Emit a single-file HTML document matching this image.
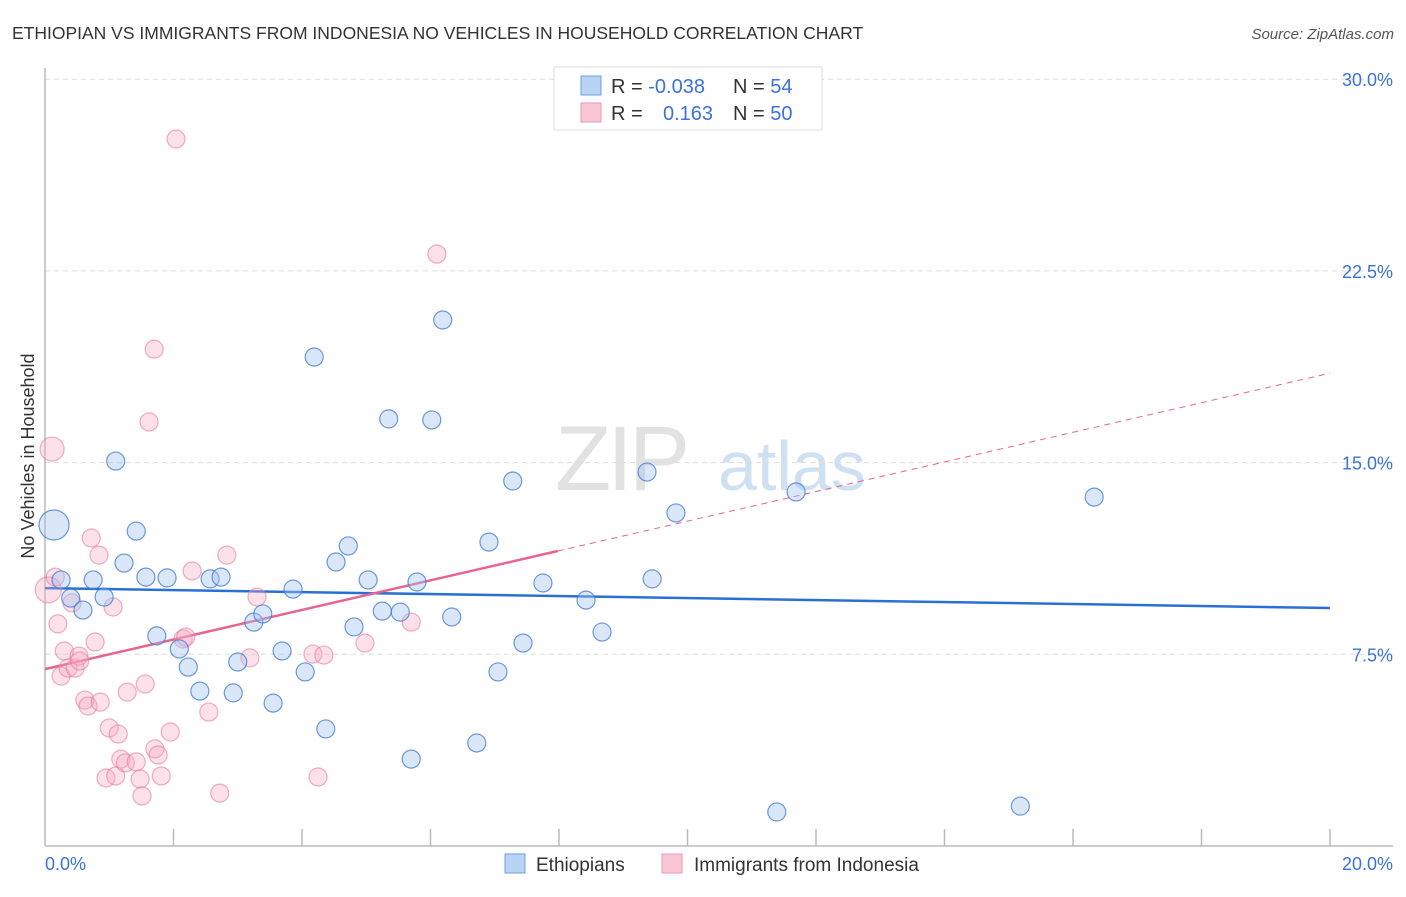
<!DOCTYPE html>
<html><head><meta charset="utf-8"><style>
body{margin:0;background:#fff;font-family:"Liberation Sans",sans-serif}
svg text{font-family:"Liberation Sans",sans-serif}
</style></head><body>
<svg width="1406" height="892" viewBox="0 0 1406 892" xmlns="http://www.w3.org/2000/svg">
<text x="12" y="39" font-size="17.5" fill="#333">ETHIOPIAN VS IMMIGRANTS FROM INDONESIA NO VEHICLES IN HOUSEHOLD CORRELATION CHART</text>
<text x="1394" y="39" font-size="15" fill="#555" font-style="italic" text-anchor="end">Source: ZipAtlas.com</text>
<g>
<text x="555" y="490" font-size="92" fill="#e2e2e2" font-family="Liberation Serif" letter-spacing="-4">ZIP</text>
<text x="718" y="490" font-size="70" fill="#cfe0f3">atlas</text>
</g>
<g id="grid"></g>
<g id="axes"></g>
<g id="lines"></g>
<g id="pts"></g>
<text transform="translate(34,456) rotate(-90)" font-size="18" fill="#333" text-anchor="middle">No Vehicles in Household</text>
<g>
<rect x="554" y="67" width="268" height="63" fill="#fff" stroke="#ddd"/>
<rect x="581" y="76" width="20" height="19" fill="#b9d3f4" stroke="#6d9fe0"/>
<rect x="581" y="103" width="20" height="19" fill="#f9c6d4" stroke="#ec95af"/>
<text x="611" y="93" font-size="20" fill="#333">R = <tspan fill="#3a72d8">-0.038</tspan></text>
<text x="733" y="93" font-size="20" fill="#333">N = <tspan fill="#3a72d8">54</tspan></text>
<text x="611" y="120" font-size="20" fill="#333">R = </text>
<text x="663" y="120" font-size="20" fill="#3a72d8">0.163</text>
<text x="733" y="120" font-size="20" fill="#333">N = <tspan fill="#3a72d8">50</tspan></text>
</g>
<g>
<rect x="505" y="854" width="20" height="19" fill="#b9d3f4" stroke="#6d9fe0"/>
<text x="536" y="871" font-size="19" fill="#333">Ethiopians</text>
<rect x="662" y="854" width="20" height="19" fill="#f9c6d4" stroke="#ec95af"/>
<text x="694" y="871" font-size="19" fill="#333">Immigrants from Indonesia</text>
</g>
</svg>
<script>
const yTicks=[7.5,15,22.5,30];
const yTickLabels=["7.5%","15.0%","22.5%","30.0%"];
const xTickCount=10;
const xEndLabels=["0.0%","20.0%"];
const blueX=[0.14,0.25,0.40,0.59,0.75,0.92,1.10,1.23,1.42,1.57,1.74,1.90,2.09,2.23,2.41,2.57,2.74,2.93,3.00,3.25,3.39,3.55,3.69,3.86,4.05,4.19,4.37,4.53,4.72,4.81,5.03,5.25,5.35,5.53,5.70,5.79,6.02,6.19,6.33,6.72,6.91,7.05,7.28,7.44,7.75,8.42,8.67,9.37,9.45,9.82,11.39,11.69,15.18,16.33];
const blueY=[12.56,10.41,9.70,9.23,10.41,9.74,15.06,11.07,12.32,10.52,8.22,10.49,7.71,7.00,6.06,10.45,10.52,5.99,7.20,8.76,9.08,5.59,7.63,10.05,6.81,19.13,4.58,11.11,11.74,8.57,10.41,9.19,16.71,9.15,3.40,10.33,16.67,20.58,8.96,4.03,11.89,6.81,14.28,7.94,10.29,9.62,8.37,14.63,10.45,13.03,1.33,13.85,1.56,13.65];
const blueSize=[15,9,9,9,9,9,9,9,9,9,9,9,9,9,9,9,9,9,9,9,9,9,9,9,9,9,9,9,9,9,9,9,9,9,9,9,9,9,9,9,9,9,9,9,9,9,9,9,9,9,9,9,9,9];
const pinkX=[0.11,0.05,0.16,0.20,0.25,0.30,0.36,0.42,0.47,0.53,0.54,0.62,0.67,0.72,0.78,0.84,0.86,0.95,1.00,1.06,1.10,1.14,1.18,1.25,1.28,1.42,1.48,1.51,1.56,1.62,1.70,1.71,1.76,1.81,1.95,2.04,2.15,2.19,2.29,2.55,2.72,2.83,3.19,3.30,4.25,4.17,4.34,4.98,5.70,6.10];
const pinkY=[15.53,10.02,10.52,8.69,6.65,7.63,6.96,9.51,6.96,7.43,7.24,5.71,5.48,12.05,7.98,11.38,5.63,2.66,4.62,9.35,2.74,4.38,3.40,3.25,6.02,3.29,2.62,1.96,6.34,16.59,19.44,3.80,3.56,2.74,4.46,27.66,8.10,8.18,10.76,5.24,2.07,11.38,7.36,9.74,2.70,7.51,7.47,7.94,8.76,23.16];
const pinkSize=[12,13,9,9,9,9,9,9,9,9,9,9,9,9,9,9,9,9,9,9,9,9,9,9,9,9,9,9,9,9,9,9,9,9,9,9,9,9,9,9,9,9,9,9,9,9,9,9,9,9];
const blueTrend=[10.09,-0.039];
const pinkTrend=[6.92,0.579];
const pinkSolidEnd=7.98;
const NS="http://www.w3.org/2000/svg";
const X0=45,X1=1330,Y0=846,PX_PER=191.7/7.5;
const sx=v=>X0+(X1-X0)*v/20;
const sy=v=>Y0-v*PX_PER;
function mk(tag,attrs,parent){const e=document.createElementNS(NS,tag);for(const k in attrs)e.setAttribute(k,attrs[k]);document.getElementById(parent).appendChild(e);return e;}
yTicks.forEach((t,i)=>{
 const l=mk('line',{x1:45,x2:1393,y1:sy(t),y2:sy(t),stroke:'#ddd','stroke-dasharray':'5,4'},'grid');
 
 
 const tx=mk('text',{x:1393,y:sy(t)+7,'font-size':18,fill:'#3a72d8','text-anchor':'end'},'grid');
 tx.textContent=yTickLabels[i];
 
 
});
const ya=mk('line',{x1:45,x2:45,y1:68,y2:846,stroke:'#bbb','stroke-width':1.5},'axes');


const xa=mk('line',{x1:45,x2:1393,y1:846,y2:846,stroke:'#bbb','stroke-width':1.5},'axes');


for(let k=1;k<=xTickCount;k++){const v=20*k/xTickCount;
 const t=mk('line',{x1:sx(v),x2:sx(v),y1:829,y2:846,stroke:'#bbb','stroke-width':1.5},'axes');
 
 }
[[0,'start',45],[20,'end',1393]].forEach((d,i)=>{
 const t=mk('text',{x:d[2],y:870,'font-size':18,fill:'#3a72d8','text-anchor':d[1]},'axes');
 t.textContent=xEndLabels[i];
 
 });
function dot(x,y,r,fill,stroke,name){
 const c=mk('circle',{cx:sx(x),cy:sy(y),r:r,fill:fill,stroke:stroke,'stroke-width':1.2},'pts');
 
 }
pinkX.forEach((x,i)=>dot(x,pinkY[i],pinkSize[i],'rgba(246,170,195,0.35)','rgba(232,120,155,0.6)','indonesia-point'));
blueX.forEach((x,i)=>dot(x,blueY[i],blueSize[i],'rgba(160,196,240,0.4)','rgba(60,120,210,0.75)','ethiopian-point'));
const bl=mk('line',{x1:sx(0),y1:sy(blueTrend[0]),x2:sx(20),y2:sy(blueTrend[0]+20*blueTrend[1]),stroke:'#2a6fd6','stroke-width':2.5},'lines');


const pl=mk('line',{x1:sx(0),y1:sy(pinkTrend[0]),x2:sx(pinkSolidEnd),y2:sy(pinkTrend[0]+pinkSolidEnd*pinkTrend[1]),stroke:'#e8638f','stroke-width':2.5},'lines');


const pd=mk('line',{x1:sx(pinkSolidEnd),y1:sy(pinkTrend[0]+pinkSolidEnd*pinkTrend[1]),x2:sx(20),y2:sy(pinkTrend[0]+20*pinkTrend[1]),stroke:'#e8638f','stroke-width':1,'stroke-dasharray':'6,5'},'lines');


</script>
</body></html>
